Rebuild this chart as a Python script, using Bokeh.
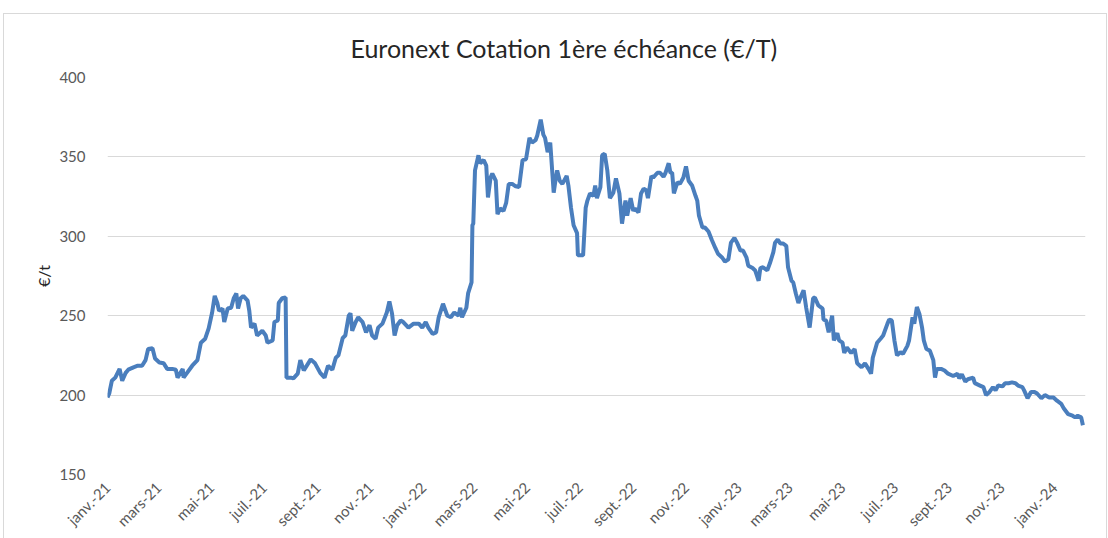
import pandas as pd
from bokeh.plotting import figure
from bokeh.models import FixedTicker, Range1d, ColumnDataSource
from bokeh.embed import file_html
from bokeh.resources import INLINE

# ---- data ----
start_date = "2021-01-01"
day_offset = [
    0, 2, 5, 9, 14, 17, 21, 24, 30, 35, 40, 44, 47, 52, 55, 60, 65, 69, 75, 79,
    81, 87, 88, 92, 98, 104, 108, 113, 117, 121, 124, 127, 129, 133, 135, 139, 143, 146, 149, 151,
    154, 157, 162, 164, 166, 170, 173, 179, 183, 185, 191, 193, 197, 198, 202, 206, 207, 212, 215, 220,
    223, 227, 235, 240, 246, 251, 255, 260, 264, 267, 272, 275, 279, 281, 283, 287, 290, 295, 299, 303,
    306, 310, 313, 318, 323, 326, 329, 332, 335, 339, 342, 348, 354, 360, 364, 368, 371, 376, 380, 383,
    388, 393, 397, 401, 406, 408, 410, 415, 417, 421,
    422, 423, 425, 429, 431, 435, 438, 440, 443, 445, 449, 451, 454, 458, 461, 464, 468, 472, 476, 480,
    484, 488, 491, 495, 497, 501, 504, 506, 509, 512, 516, 518, 520, 523, 526, 531, 533, 536, 539, 543,
    544, 550, 553, 555, 558, 562, 564, 566, 570, 572, 575, 578, 581, 585, 588, 592,
    595, 599, 601, 605, 608, 610, 614, 617, 620, 623, 625, 629, 631, 636, 639, 643, 645, 649, 651, 653,
    655, 659, 662, 666, 669, 672, 676, 680, 682, 684, 688, 691, 695, 699, 703, 706, 711, 714, 718, 721,
    725, 728, 732, 735, 739, 741, 746, 749, 753, 755, 758, 763, 766, 770, 772, 775, 778, 781, 785, 787,
    791, 793, 796, 799,
    801, 805, 808, 812, 816, 818, 822, 827, 828, 831, 834, 838, 840, 844, 846, 850, 852, 855, 860, 864,
    867, 872, 876, 880, 883, 885, 890, 894, 897, 902, 904, 907, 910, 913, 917, 920, 925, 927, 931, 933,
    936, 939, 942, 944, 947, 951, 955, 957, 959, 964, 968, 972, 978, 983, 985, 988, 992, 995, 1001, 1003,
    1009, 1013, 1016, 1020, 1024, 1027, 1030, 1035, 1038, 1042, 1046, 1050, 1053, 1058, 1060, 1064, 1068, 1072, 1075, 1080,
    1084, 1089, 1094, 1098, 1103, 1106, 1111, 1116, 1119, 1122, 1126, 1128,
]
price = [
    198.5, 201, 209, 211, 216.5, 209, 214, 216, 217.5, 218.5, 218.5, 222, 229, 229.5, 223, 220.5, 220, 216.5, 216.5, 216,
    211, 216.5, 211, 214, 218.5, 222, 233, 235.5, 242, 252, 262.5, 258, 253, 254.5, 246, 254.5, 255, 261, 264, 254.5,
    261, 262.5, 259.5, 253, 242.5, 245, 237.5, 240.5, 237.5, 233, 234.5, 246, 247, 258, 261, 261.5, 211, 211, 210.5, 213.5,
    222, 215.5, 222.5, 220, 214, 211, 218.5, 216, 223.5, 225, 236, 237.5, 250, 251.5, 240.5, 246, 249, 246, 239.5, 244,
    237.5, 235.5, 242.5, 245, 252, 259, 251.5, 237.5, 244, 247, 246, 242.5, 245, 245, 242.5, 246, 242.5, 238.5, 239.5, 249,
    257.5, 250, 249, 252, 250, 255, 249, 255, 264, 271,
    307, 308, 341.5, 351, 346, 348, 344.5, 324.5, 337, 339.5, 335, 314, 317.5, 316, 321, 333, 333, 331.5, 331, 348,
    348.5, 362, 359, 360.5, 363.5, 373.5, 364, 362, 353, 359, 327.5, 335, 341.5, 335, 333, 338, 332, 318, 307, 302,
    288, 288, 318, 322.5, 327, 325.5, 332, 324, 331, 351, 352, 341.5, 324, 327.5, 336.5, 327,
    308, 322.5, 313, 324, 316, 317.5, 315, 327, 330, 329, 324, 338, 337, 340, 340, 337.5, 339.5, 346, 340, 340,
    327, 334, 333, 337, 344, 335, 332, 325.5, 322.5, 313, 305.5, 305.5, 303, 297.5, 292.5, 289, 286.5, 284, 285.5, 296,
    299, 296, 291, 291, 286.5, 281.5, 280, 278.5, 272, 280, 280.5, 278.5, 283, 290, 296, 298, 295.5, 295.5, 294, 280.5,
    272, 271, 264, 258,
    261, 266, 255, 242.5, 261, 261.5, 256.5, 254.5, 247.5, 247, 239.5, 250, 234.5, 239, 234.5, 233, 226.5, 230, 226.5, 229,
    220, 217.5, 220, 216.5, 213.5, 223.5, 233, 235.5, 237.5, 245, 247.5, 247, 234.5, 225, 227, 226, 231, 234.5, 249, 245,
    255.5, 251, 242.5, 234.5, 229, 228, 222, 211, 216.5, 216.5, 215.5, 213.5, 212, 213.5, 210.5, 213, 208.5, 210, 211, 207.5,
    206, 205, 200, 202, 205, 203, 206, 205.5, 207.5, 207.5, 208, 207.5, 206, 205, 203, 198, 202, 202, 201, 198,
    200, 198.5, 198.5, 196.5, 194.5, 191.5, 188, 187, 186, 187, 186, 181,
]
tick_dates = [
    "2021-01-01", "2021-03-01", "2021-05-01", "2021-07-01", "2021-09-01", "2021-11-01",
    "2022-01-01", "2022-03-01", "2022-05-01", "2022-07-01", "2022-09-01", "2022-11-01",
    "2023-01-01", "2023-03-01", "2023-05-01", "2023-07-01", "2023-09-01", "2023-11-01",
    "2024-01-01",
]
tick_labels = [
    "janv.-21", "mars-21", "mai-21", "juil.-21", "sept.-21", "nov.-21",
    "janv.-22", "mars-22", "mai-22", "juil.-22", "sept.-22", "nov.-22",
    "janv.-23", "mars-23", "mai-23", "juil.-23", "sept.-23", "nov.-23",
    "janv.-24",
]
y_ticks = [150, 200, 250, 300, 350, 400]

# ---- build ----
dates = pd.Timestamp(start_date) + pd.to_timedelta(day_offset, unit="D")
src = ColumnDataSource(dict(date=dates, price=price))

tick_ms = [int(pd.Timestamp(d).value // 10**6) for d in tick_dates]

FONT = "Lato"
p = figure(
    width=1104, height=527, x_axis_type="datetime",
    output_backend="svg", toolbar_location=None,
    x_range=Range1d(pd.Timestamp(start_date), pd.Timestamp(start_date) + pd.Timedelta(days=1131)),
    y_range=Range1d(150, 400),
    min_border_left=103, min_border_right=23, min_border_top=63, min_border_bottom=67,
    title="Euronext Cotation 1ère échéance (€/T)",
)
p.title.align = "left"
p.title.offset = 243
p.title.text_font = FONT
p.title.text_font_size = "25px"
p.title.text_font_style = "normal"
p.title.text_color = "#262626"
p.title.standoff = 30
p.outline_line_color = None
p.background_fill_color = "white"
p.border_fill_color = "white"

p.line("date", "price", source=src, line_color="#4a7ebd", line_width=4)

p.xgrid.grid_line_color = None
p.ygrid.grid_line_color = "#d9d9d9"
p.ygrid.grid_line_width = 1
p.ygrid.ticker = FixedTicker(ticks=y_ticks)

p.yaxis.ticker = FixedTicker(ticks=y_ticks)
p.yaxis.axis_line_color = None
p.yaxis.major_tick_line_color = None
p.yaxis.minor_tick_line_color = None
p.yaxis.major_label_standoff = 16
p.yaxis.major_label_text_font = FONT
p.yaxis.major_label_text_font_size = "15px"
p.yaxis.major_label_text_color = "#595959"
p.yaxis.axis_label = "€/t"
p.yaxis.axis_label_text_font = FONT
p.yaxis.axis_label_text_font_size = "16px"
p.yaxis.axis_label_text_font_style = "normal"
p.yaxis.axis_label_text_color = "#262626"
p.yaxis.axis_label_standoff = 3

p.xaxis.ticker = FixedTicker(ticks=tick_ms)
p.xaxis.major_label_overrides = {t: l for t, l in zip(tick_ms, tick_labels)}
p.xaxis.major_label_orientation = 0.785398
p.xaxis.axis_line_color = None
p.xaxis.major_tick_line_color = None
p.xaxis.minor_tick_line_color = None
p.xaxis.major_label_text_font = FONT
p.xaxis.major_label_text_font_size = "15px"
p.xaxis.major_label_text_color = "#595959"
p.xaxis.major_label_standoff = 4

p.styles = {"border": "1px solid #d9d9d9", "margin-left": "3px", "margin-top": "13px"}

open("out.html", "w").write(file_html(p, INLINE))
